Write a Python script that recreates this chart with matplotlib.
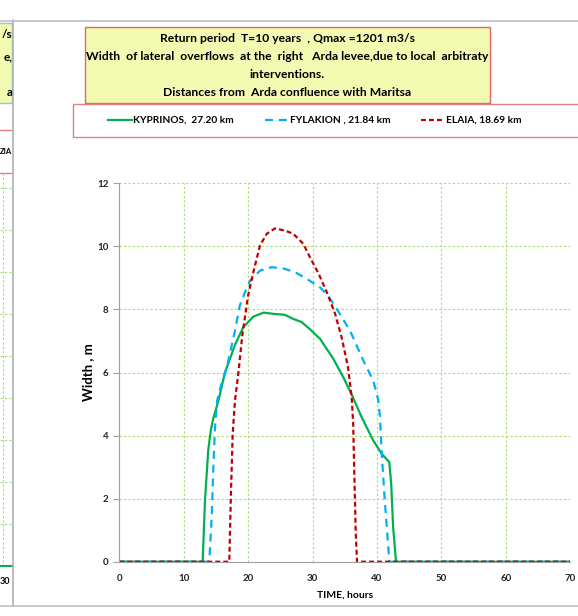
import matplotlib
matplotlib.use("Agg")
import matplotlib.pyplot as plt
from matplotlib.patches import Rectangle
from matplotlib.lines import Line2D

# --- data ---
kyp_t = [0, 12.94, 13.3, 13.8, 14.2, 14.6, 15.4, 16.4, 18.0, 19.25, 20.8, 22.4, 23.9,
         25.7, 27.0, 28.3, 29.6, 31.15, 33.2, 34.77, 36.07, 37.6, 39.4, 40.7, 41.9,
         42.2, 42.5, 42.95, 70]
kyp_w = [0, 0, 1.95, 3.53, 4.17, 4.55, 5.12, 6.0, 6.9, 7.44, 7.77, 7.9, 7.86,
         7.83, 7.7, 7.6, 7.37, 7.07, 6.44, 5.85, 5.3, 4.59, 3.85, 3.43, 3.16,
         2.48, 1.1, 0, 0]

fyl_t = [0, 13.97, 14.34, 14.6, 14.85, 15.2, 15.8, 16.7, 17.96, 18.7, 19.5, 20.3,
         21.84, 23.65, 25.45, 27.3, 29.1, 31.15, 32.4, 33.74, 35.8, 37.87, 39.4,
         39.95, 40.2, 40.46, 40.7, 41.2, 41.75, 41.9, 70]
fyl_w = [0, 0, 1.42, 3.0, 4.27, 5.12, 5.6, 6.17, 7.33, 8.12, 8.54, 8.91,
         9.23, 9.34, 9.3, 9.18, 8.97, 8.7, 8.44, 8.02, 7.33, 6.38, 5.75,
         5.33, 5.12, 4.59, 3.53, 1.95, 0.47, 0, 0]

ela_t = [0, 17.07, 17.3, 17.6, 17.96, 18.47, 19.1, 20.0, 20.8, 21.84, 22.9, 24.16,
         25.7, 27.0, 28.56, 29.6, 30.9, 32.2, 33.5, 34.5, 35.5, 36.07, 36.3, 36.45,
         36.7, 36.9, 70]
ela_w = [0, 0, 1.95, 4.06, 5.12, 5.96, 7.2, 8.45, 9.18, 10.03, 10.4, 10.57,
         10.5, 10.4, 10.08, 9.65, 9.15, 8.55, 7.86, 7.12, 6.17, 5.2, 4.4, 3.0,
         0.9, 0, 0]

labels = ["KYPRINOS,  27.20 km", "FYLAKION , 21.84 km", "ELAIA, 18.69 km"]
title_lines = ["Return period  T=10 years  , Qmax =1201 m3/s",
               "Width  of lateral  overflows  at the  right   Arda levee,due to local  arbitraty",
               "interventions.",
               "Distances from  Arda confluence with Maritsa"]
x_ticks = [0, 10, 20, 30, 40, 50, 60, 70]
y_ticks = [0, 2, 4, 6, 8, 10, 12]

plt.rcParams['font.family'] = ['Lato', 'DejaVu Sans']

W, H = 578, 616
fig = plt.figure(figsize=(W / 100, H / 100), dpi=100)


def fx(x):
    return x / W


def fy(y):
    return 1 - y / H


# --- sliver of the neighbouring chart on the left ---
side = fig.add_axes([0, fy(606), fx(12.7), fy(21) - fy(606)])
side.set_xlim(0, 12.7)
side.set_ylim(606, 21)
side.axis("off")
side.add_patch(Rectangle((-5, 23), 17.5, 80, facecolor="#f2f9b1", edgecolor="#8cc8e8", lw=1))
for yy, s in [(35, "/s"), (57, "e,"), (92, "a")]:
    side.text(12.5, yy, s, ha="right", va="center", fontsize=8.5, fontweight="bold", clip_on=True)
side.axhline(130, color="#e08080", lw=1)
side.axhline(173, color="#e08080", lw=1)
side.text(12.2, 152, "ZIA", ha="right", va="center", fontsize=5.5, fontweight="bold", clip_on=True)
side.plot([3, 3], [173, 566], color="#a8dc70", lw=0.8, ls=(0, (2, 2)))
for yy in range(188, 566, 42):
    side.plot([0, 12.7], [yy, yy], color="#a8dc70", lw=0.8, ls=(0, (2, 2)))
side.plot([0, 12.7], [566, 566], color="#00b050", lw=1.5)
side.text(10.5, 581, "30", ha="right", va="center", fontsize=6.5, fontweight="bold", clip_on=True)

# frame lines of the screenshot
fig.add_artist(Line2D([fx(12.7), fx(12.7)], [fy(20), fy(606)], color="#b0b0b0", lw=1.2))
fig.add_artist(Line2D([0, 1], [fy(21), fy(21)], color="#c0c0c0", lw=1.2))
fig.add_artist(Line2D([0, 1], [fy(606), fy(606)], color="#c0c0c0", lw=1.2))

# --- title box ---
fig.add_artist(Rectangle((fx(84.5), fy(103)), fx(489.5) - fx(84.5), fy(27) - fy(103),
                         facecolor="#f2f9b1", edgecolor="#e06666", lw=1))
for yy, s in zip([39, 57, 75, 93], title_lines):
    fig.text(fx(287), fy(yy), s, ha="center", va="center", fontsize=8.7, fontweight="bold")

# --- legend box ---
fig.add_artist(Rectangle((fx(72.7), fy(137)), fx(600) - fx(72.7), fy(104) - fy(137),
                         facecolor="white", edgecolor="#e08080", lw=1))

# --- main plot ---
ax = fig.add_axes([fx(119.3), fy(561.7), fx(570.3) - fx(119.3), fy(183.3) - fy(561.7)])
l1, = ax.plot(kyp_t, kyp_w, color="#00b050", lw=1.6)
l2, = ax.plot(fyl_t, fyl_w, color="#00b0f0", lw=1.6, ls=(0, (3.6, 2.6)))
l3, = ax.plot(ela_t, ela_w, color="#c00000", lw=1.6, ls=(0, (2.2, 1.4)))

ax.set_xlim(0, 70)
ax.set_ylim(0, 12)
ax.set_xticks(x_ticks)
ax.set_yticks(y_ticks)
ax.grid(True, color="#a8dc70", lw=0.8, ls=(0, (2, 2)))
ax.set_axisbelow(True)
for sp in ["top", "right"]:
    ax.spines[sp].set_visible(False)
for sp in ["left", "bottom"]:
    ax.spines[sp].set_color("#a0a0a0")
ax.tick_params(axis="y", length=4, color="#a0a0a0", labelsize=7, pad=4)
ax.tick_params(axis="x", length=0, labelsize=7, pad=9)
for lab in ax.get_xticklabels() + ax.get_yticklabels():
    lab.set_fontweight("bold")
    lab.set_color("#222222")
ax.set_xlabel("TIME, hours", fontsize=7.5, fontweight="bold", labelpad=5)
ax.set_ylabel("Width , m", fontsize=9.5, fontweight="bold", labelpad=2)

fig.legend([l1, l2, l3], labels, loc="center left", bbox_to_anchor=(fx(99), fy(120.5)),
           ncol=3, frameon=False, prop={"weight": "bold", "size": 7.3},
           handlelength=2.4, handletextpad=0.1, columnspacing=3.0)

fig.savefig("out.png", dpi=100)
